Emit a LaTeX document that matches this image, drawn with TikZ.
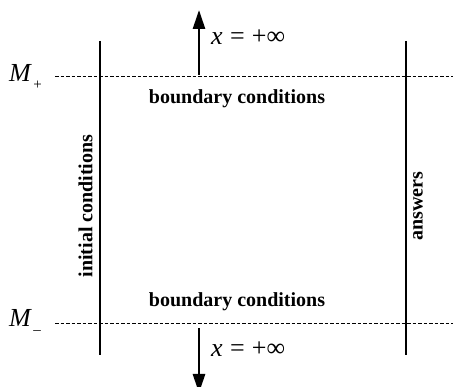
\documentclass[tikz,border=0pt]{standalone}
\usepackage{fontspec}
\setmainfont{Liberation Serif}
\usetikzlibrary{arrows.meta}
\begin{document}
\begin{tikzpicture}[x=1pt,y=-1pt,
  vline/.style={line width=1.3pt},
  dline/.style={dash pattern=on 3.5pt off 2pt, line width=0.7pt},
  arr/.style={line width=2.6pt,-{Triangle[length=19pt,width=12pt]}},
  bold/.style={font=\fontsize{20}{22}\selectfont\bfseries, inner sep=0pt},
  lab/.style={font=\fontsize{26}{28}\selectfont, inner sep=0pt, anchor=base west},
  mlab/.style={font=\fontsize{26}{28}\selectfont, inner sep=0pt, anchor=base west}]
\useasboundingbox (0,0) rectangle (453,387);
\coordinate (L1) at (100,41); \coordinate (L2) at (100,355);
\coordinate (R1) at (406,41); \coordinate (R2) at (406,355);
\coordinate (T1) at (55,76); \coordinate (T2) at (453,76);
\coordinate (B1) at (55,323); \coordinate (B2) at (453,323);
\coordinate (UA1) at (199,75); \coordinate (UA2) at (199,10);
\coordinate (DA1) at (199,328); \coordinate (DA2) at (199,393);
\draw[vline] (L1) -- (L2);
\draw[vline] (R1) -- (R2);
\draw[dline] (T1) -- (T2);
\draw[dline] (B1) -- (B2);
\draw[arr] (UA1) -- (UA2);
\draw[arr] (DA1) -- (DA2);
\node[mlab] (mp) at (9,82) {\textit{M}\hspace{0.05em}\raisebox{-0.3em}{\fontsize{15}{16}\selectfont +}};
\node[mlab] (mm) at (9,327) {\textit{M}\hspace{0.05em}\raisebox{-0.3em}{\fontsize{15}{16}\selectfont \textendash}};
\node[lab] (xt) at (211,45) {\textit{x}\hspace{0.28em}=\hspace{0.28em}+∞};
\node[lab] (xb) at (211,357) {\textit{x}\hspace{0.28em}=\hspace{0.28em}+∞};
\node[bold] (bt) at (237,99) {boundary conditions};
\node[bold] (bb) at (237,302) {boundary conditions};
\node[bold, rotate=90] (ic) at (85.5,206) {initial conditions};
\node[bold, rotate=90] (an) at (418,206) {answers};
\end{tikzpicture}
\end{document}
